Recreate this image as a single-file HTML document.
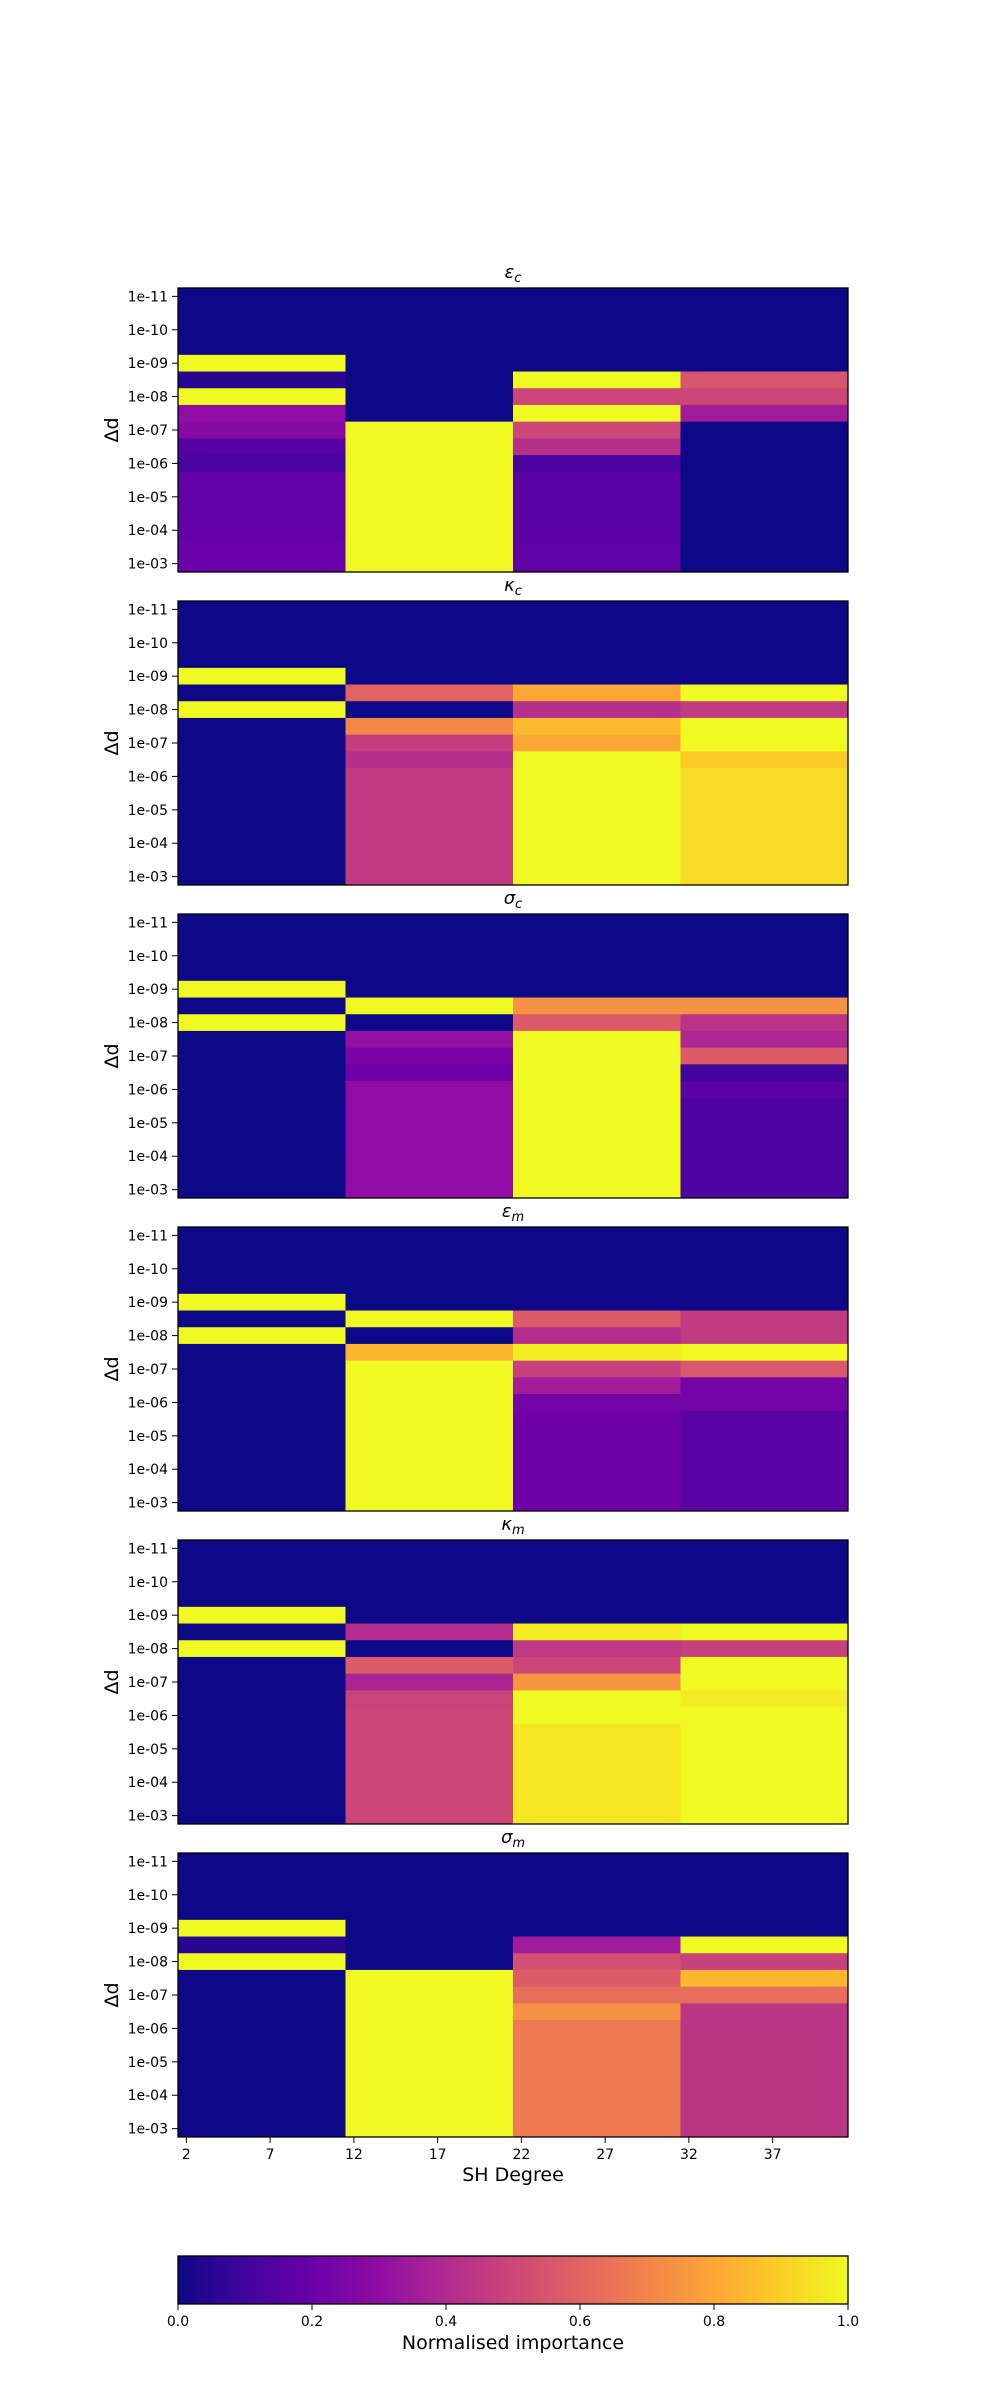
<!DOCTYPE html>
<html><head><meta charset="utf-8">
<style>
html,body{margin:0;padding:0;background:#fff;}
svg{display:block;font-family:"DejaVu Sans","Liberation Sans",sans-serif;}
</style></head>
<body>
<svg id="fig" width="1000" height="2400" viewBox="0 0 1000 2400" xmlns="http://www.w3.org/2000/svg">
<defs>
<linearGradient id="plasmaGrad" x1="0" x2="1" y1="0" y2="0">
<stop offset="0" stop-color="#0d0887"/><stop offset="0.1" stop-color="#41049d"/><stop offset="0.2" stop-color="#6a00a8"/><stop offset="0.3" stop-color="#8f0da4"/><stop offset="0.4" stop-color="#b12a90"/><stop offset="0.5" stop-color="#cc4778"/><stop offset="0.6" stop-color="#e16462"/><stop offset="0.7" stop-color="#f2844b"/><stop offset="0.8" stop-color="#fca636"/><stop offset="0.9" stop-color="#fcce25"/><stop offset="1" stop-color="#f0f921"/>
</linearGradient>
</defs>
</svg>
<script>
// ---- data ----
const rowLabels = ["1e-11","1e-10","1e-09","1e-08","1e-07","1e-06","1e-05","1e-04","1e-03"];
const degreeStarts = [2, 12, 22, 32];
const xTickLabels = [2, 7, 12, 17, 22, 27, 32, 37];
const cbTicks = [0.0, 0.2, 0.4, 0.6, 0.8, 1.0];
const panelTitles = ["ε", "κ", "σ", "ε", "κ", "σ"];
const panelSubs = ["c", "c", "c", "m", "m", "m"];
// each panel: 4 columns x 17 rows (row 0 = 1e-11, step half-decade)
const epsC = [
 [0,0,0,0,1,0.05,1,0.3,0.28,0.15,0.12,0.18,0.18,0.18,0.18,0.2,0.2],
 [0,0,0,0,0,0,0,0,1,1,1,1,1,1,1,1,1],
 [0,0,0,0,0,1,0.5,1,0.5,0.42,0.12,0.16,0.16,0.16,0.16,0.17,0.17],
 [0,0,0,0,0,0.55,0.5,0.35,0,0,0,0,0,0,0,0,0]
];
const kapC = [
 [0,0,0,0,1,0,1,0,0,0,0,0,0,0,0,0,0],
 [0,0,0,0,0,0.6,0,0.71,0.47,0.42,0.46,0.46,0.46,0.46,0.46,0.46,0.46],
 [0,0,0,0,0,0.8,0.42,0.85,0.8,1,1,1,1,1,1,1,1],
 [0,0,0,0,0,1,0.46,1,1,0.89,0.93,0.93,0.93,0.93,0.93,0.93,0.93]
];
const sigC = [
 [0,0,0,0,1,0,1,0,0,0,0,0,0,0,0,0,0],
 [0,0,0,0,0,1,0,0.31,0.24,0.21,0.3,0.3,0.3,0.3,0.3,0.3,0.3],
 [0,0,0,0,0,0.74,0.57,1,1,1,1,1,1,1,1,1,1],
 [0,0,0,0,0,0.74,0.43,0.39,0.57,0.1,0.16,0.13,0.13,0.13,0.13,0.13,0.13]
];
const epsM = [
 [0,0,0,0,1,0,1,0,0,0,0,0,0,0,0,0,0],
 [0,0,0,0,0,1,0,0.84,1,1,1,1,1,1,1,1,1],
 [0,0,0,0,0,0.57,0.41,0.97,0.48,0.35,0.23,0.21,0.21,0.21,0.21,0.21,0.21],
 [0,0,0,0,0,0.46,0.46,1,0.56,0.23,0.23,0.16,0.16,0.16,0.16,0.16,0.16]
];
const kapM = [
 [0,0,0,0,1,0,1,0,0,0,0,0,0,0,0,0,0],
 [0,0,0,0,0,0.41,0,0.57,0.38,0.49,0.5,0.5,0.5,0.5,0.5,0.5,0.5],
 [0,0,0,0,0,0.97,0.45,0.5,0.75,1,1,0.96,0.96,0.96,0.96,0.96,0.96],
 [0,0,0,0,0,1,0.48,1,1,0.97,1,1,1,1,1,1,1]
];
const sigM = [
 [0,0,0,0,1,0.05,1,0,0,0,0,0,0,0,0,0,0],
 [0,0,0,0,0,0,0,1,1,1,1,1,1,1,1,1,1],
 [0,0,0,0,0,0.35,0.53,0.57,0.63,0.74,0.67,0.67,0.67,0.67,0.67,0.67,0.67],
 [0,0,0,0,0,1,0.48,0.84,0.63,0.44,0.44,0.44,0.44,0.44,0.44,0.44,0.44]
];
const panels = [epsC, kapC, sigC, epsM, kapM, sigM];

// ---- layout ----
const NS = "http://www.w3.org/2000/svg";
const svg = document.getElementById("fig");
const X0 = 178, X1 = 848, PH = 284, P0 = 288, PSTEP = 313;
const NROWS = 17;
const degMin = 1.5, degMax = 41.5;
function xScale(d){ return X0 + (d - degMin) / (degMax - degMin) * (X1 - X0); }
function yScale(rowPos, top){ return top + rowPos / NROWS * PH; } // rowPos in row units
const plasma = ["#0d0887","#41049d","#6a00a8","#8f0da4","#b12a90","#cc4778","#e16462","#f2844b","#fca636","#fcce25","#f0f921"];
function hex2rgb(h){return [parseInt(h.slice(1,3),16),parseInt(h.slice(3,5),16),parseInt(h.slice(5,7),16)];}
function cmap(v){
  v = Math.max(0, Math.min(1, v));
  const t = v * 10, i = Math.min(9, Math.floor(t)), f = t - i;
  const a = hex2rgb(plasma[i]), b = hex2rgb(plasma[i+1]);
  return "rgb(" + a.map((c,k)=>Math.round(c + (b[k]-c)*f)).join(",") + ")";
}
function mk(tag, attrs, parent){
  const e = document.createElementNS(NS, tag);
  for (const k in attrs) e.setAttribute(k, attrs[k]);
  (parent || svg).appendChild(e);
  return e;
}

panels.forEach((data, p) => {
  const top = P0 + p * PSTEP;
  const g = mk("g", {});
  
  
  data.forEach((col, c) => {
    const xa = xScale(degreeStarts[c] - 0.5);
    const xb = xScale(degreeStarts[c] + 9.5);
    col.forEach((v, r) => {
      const ya = yScale(r, top), yb = yScale(r + 1, top);
      const rect = mk("rect", {x: xa, y: ya, width: xb - xa + 0.5, height: yb - ya + 0.5, fill: cmap(v)}, g);
      
      
    });
  });
  const frame = mk("rect", {x: X0, y: top, width: X1 - X0, height: PH, fill: "none", stroke: "#000", "stroke-width": 1.3});
  
  
  // title
  const t = mk("text", {x: (X0 + X1) / 2, y: top - 10, "text-anchor": "middle", "font-size": 18});
  
  
  const ts1 = mk("tspan", {"font-style": "italic"}, t); ts1.textContent = panelTitles[p];
  const ts2 = mk("tspan", {"font-style": "italic", "font-size": 13, dy: 4}, t); ts2.textContent = panelSubs[p];
  // y ticks
  rowLabels.forEach((lab, i) => {
    const y = yScale(i * 2 + 0.5, top);
    const tk = mk("line", {x1: X0 - 6, x2: X0, y1: y, y2: y, stroke: "#000", "stroke-width": 1});
    
    
    const tl = mk("text", {x: X0 - 10, y: y + 5, "text-anchor": "end", "font-size": 14});
    
    
    tl.textContent = lab;
  });
  const yl = mk("text", {x: 0, y: 0, "text-anchor": "middle", "font-size": 19, transform: "translate(118," + (top + PH/2) + ") rotate(-90)"});
  
  
  yl.textContent = "Δd";
});

// x axis on last panel
const lastBottom = P0 + 5 * PSTEP + PH;
xTickLabels.forEach(d => {
  const x = xScale(d);
  const tk = mk("line", {x1: x, x2: x, y1: lastBottom, y2: lastBottom + 6, stroke: "#000", "stroke-width": 1});
  
  
  const tl = mk("text", {x: x, y: lastBottom + 22, "text-anchor": "middle", "font-size": 14});
  
  
  tl.textContent = d;
});
const xl = mk("text", {x: (X0 + X1) / 2, y: lastBottom + 44, "text-anchor": "middle", "font-size": 19});


xl.textContent = "SH Degree";

// colorbar
const CB_T = 2256, CB_H = 48;
const cb = mk("rect", {x: X0, y: CB_T, width: X1 - X0, height: CB_H, fill: "url(#plasmaGrad)", stroke: "#000", "stroke-width": 1.3});


cbTicks.forEach(v => {
  const x = X0 + v * (X1 - X0);
  const tk = mk("line", {x1: x, x2: x, y1: CB_T + CB_H, y2: CB_T + CB_H + 6, stroke: "#000", "stroke-width": 1});
  
  
  const tl = mk("text", {x: x, y: CB_T + CB_H + 22, "text-anchor": "middle", "font-size": 14});
  
  
  tl.textContent = v.toFixed(1);
});
const cl = mk("text", {x: (X0 + X1) / 2, y: CB_T + CB_H + 45, "text-anchor": "middle", "font-size": 19});


cl.textContent = "Normalised importance";
</script>
</body></html>
